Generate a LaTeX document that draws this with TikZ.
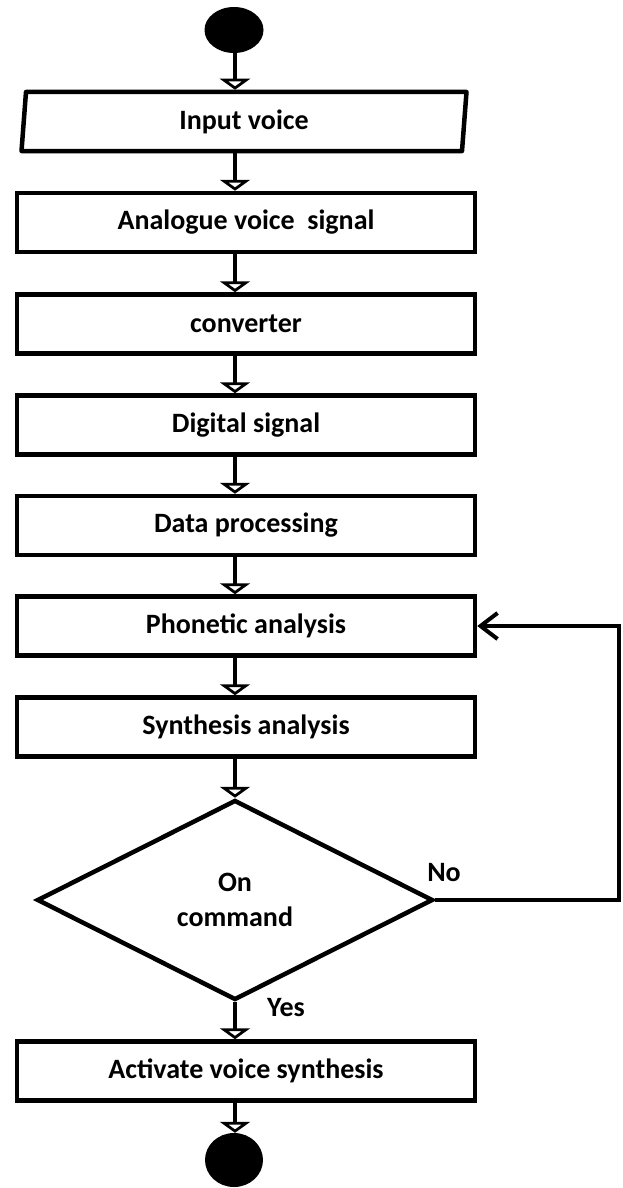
\documentclass[tikz,border=0pt]{standalone}
\usepackage{fontspec}
\setmainfont{Carlito}
\usetikzlibrary{arrows.meta,shapes.geometric,calc}

\tikzset{
  lw/.style={line width=4.5pt},
  txt/.style={font=\bfseries\fontsize{28}{35}\selectfont},
  stepbox/.style={lw, draw, rectangle, minimum width=458pt, minimum height=59pt,
    inner sep=0pt, txt},
  terminal/.style={ellipse, fill=black, draw=none, inner sep=0pt},
  flow/.style={line width=4pt, -{Triangle[open, length=11pt, width=30pt, line width=3.5pt]}},
  back/.style={line width=4pt, -{Straight Barb[length=17pt, width=26pt, line width=4pt]}},
  lbl/.style={txt, inner sep=0pt}
}

\begin{document}
\begin{tikzpicture}[x=1pt, y=-1pt]
  \useasboundingbox (0,0) rectangle (622,1188);

  % vertical axis of the flow line and the return line on the right
  \coordinate (ax) at (235,0);
  \coordinate (rt) at (619,0);

  % terminals
  \node[terminal, minimum width=59pt, minimum height=46pt] (start) at (234,30) {};
  \node[terminal, minimum width=58pt, minimum height=54pt] (stop) at (234,1160) {};

  % input (parallelogram drawn around a plain text node)
  \node[txt, minimum width=449pt, minimum height=59pt, inner sep=0pt, outer sep=2.25pt] (inp) at (244,121.5) {Input voice};
  \draw[lw, line join=round]
    ($(inp.north west)+(8.75,2.25)$) -- ($(inp.north east)+(-4.25,2.25)$) --
    ($(inp.south east)+(-8.75,-2.25)$) -- ($(inp.south west)+(4.25,-2.25)$) -- cycle;

  % processing steps
  \node[stepbox] (b1) at (246,222.5) {Analogue voice\ \ signal};
  \node[stepbox] (b2) at (246,324) {converter};
  \node[stepbox] (b3) at (246,425) {Digital signal};
  \node[stepbox] (b4) at (246,525.5) {Data processing};
  \node[stepbox] (b5) at (246,626) {Phonetic analysis};
  \node[stepbox] (b6) at (246,727) {Synthesis analysis};

  % decision
  \node[lw, draw, diamond, aspect=2, minimum width=396pt, minimum height=200pt,
        inner sep=0pt, txt, align=center] (dec) at (235,900) {On\\command};

  \node[stepbox] (act) at (246,1071) {Activate voice synthesis};

  % main flow
  \draw[flow] (start.south -| ax) -- (inp.north -| ax);
  \draw[flow] (inp.south -| ax) -- (b1.north -| ax);
  \draw[flow] (b1.south -| ax) -- (b2.north -| ax);
  \draw[flow] (b2.south -| ax) -- (b3.north -| ax);
  \draw[flow] (b3.south -| ax) -- (b4.north -| ax);
  \draw[flow] (b4.south -| ax) -- (b5.north -| ax);
  \draw[flow] (b5.south -| ax) -- (b6.north -| ax);
  \draw[flow] (b6.south -| ax) -- (dec.north);
  \draw[flow] (dec.south) -- (act.north -| ax);
  \draw[flow] (act.south -| ax) -- (stop.north -| ax);

  % return path when no command is recognised
  \draw[back] (dec.east) -- (dec.east -| rt) -- (b5.east -| rt) -- (b5.east);

  \node[lbl] (no) at (444,873) {No};
  \node[lbl] (yes) at (286,1008) {Yes};
\end{tikzpicture}
\end{document}
